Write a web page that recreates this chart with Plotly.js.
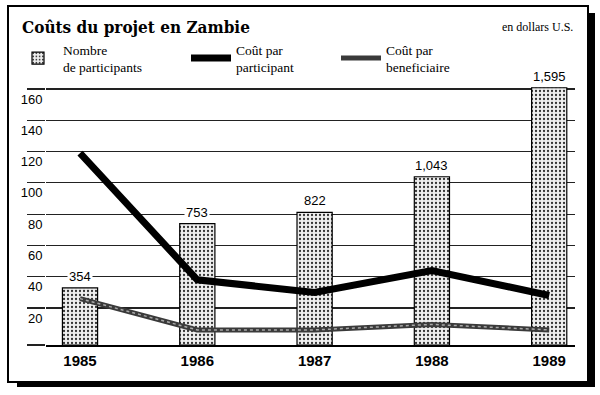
<!DOCTYPE html>
<html>
<head>
<meta charset="utf-8">
<script src="https://cdn.plot.ly/plotly-3.0.1.min.js"></script>
<style>
  html, body { margin:0; padding:0; background:#fff; width:600px; height:395px; overflow:hidden; }
  #frame { position:absolute; left:7px; top:5px; width:578px; height:374px; border:2px solid #000;
           background:#fff; box-shadow: 8px 6px 0 -2px #000; }
  #chart { position:absolute; left:0; top:0; width:600px; height:395px; }
</style>
</head>
<body>
<div id="frame"></div>
<div id="chart"></div>
<script>
const years = ['1985', '1986', '1987', '1988', '1989'];
const participants = [354, 753, 822, 1043, 1595];
const coutParParticipant = [119, 38, 30, 44, 28];
const coutParBeneficiaire = [26, 6, 6, 9.5, 6];
const costTicks = [20, 40, 60, 80, 100, 120, 140, 160];

const costMin = -3.65, costMax = 162.56;
const tickVals = [costMin + 0.01].concat(costTicks);
const tickText = [''].concat(costTicks.map(String));

const traces = [
  {
    type: 'bar', x: years, y: participants, yaxis: 'y', xaxis: 'x',
    name: 'Nombre<br>de participants', width: 0.3,
    marker: { color: '#d0d0d0', line: { color: '#000', width: 1.2 },
              pattern: { shape: '.', fgcolor: '#333', bgcolor: '#efefef', size: 4, solidity: 0.25 } },
    legend: 'legend', hoverinfo: 'skip'
  },
  {
    type: 'scatter', mode: 'lines', x: years, y: coutParParticipant, yaxis: 'y2',
    name: 'Coût par<br>participant', line: { color: '#000', width: 7 },
    legend: 'legend2', hoverinfo: 'skip'
  },
  {
    type: 'scatter', mode: 'lines', x: years, y: coutParBeneficiaire, yaxis: 'y2',
    name: 'Coût par<br>beneficiaire', line: { color: '#3a3a3a', width: 5 },
    legend: 'legend3', hoverinfo: 'skip'
  },
  {
    type: 'scatter', mode: 'lines', x: years, y: coutParBeneficiaire, yaxis: 'y2',
    showlegend: false, line: { color: '#a8a8a8', width: 1.5, dash: 'dot' }, hoverinfo: 'skip'
  }
];

const labelFont = { family: 'Liberation Sans, Arial, sans-serif', size: 13, color: '#000' };
const annotations = years.map((yr, i) => ({
  x: i, y: participants[i], xref: 'x', yref: 'y',
  text: participants[i].toLocaleString('en-US'),
  showarrow: false, yanchor: 'bottom', yshift: 2,
  bgcolor: '#fff', borderpad: 1, font: labelFont
}));
annotations.push({
  text: 'en dollars U.S.', xref: 'paper', yref: 'paper', x: 1, y: 1.224,
  xanchor: 'right', yanchor: 'middle', showarrow: false,
  font: { family: 'Liberation Serif, Times New Roman, serif', size: 12, color: '#000' }
});

const legendFont = { family: 'Liberation Serif, Times New Roman, serif', size: 13.5, color: '#000' };
function legendAt(px) {
  return { xref: 'container', yref: 'container', x: px / 600, y: 1 - 34 / 395,
           xanchor: 'left', yanchor: 'top', orientation: 'h', bgcolor: 'rgba(0,0,0,0)',
           font: legendFont, itemwidth: 40, borderwidth: 0 };
}

const layout = {
  width: 600, height: 395,
  margin: { l: 46, r: 25, t: 85, b: 50, pad: 0 },
  paper_bgcolor: 'rgba(0,0,0,0)', plot_bgcolor: 'rgba(0,0,0,0)',
  title: {
    text: '<b>Coûts du projet en Zambie</b>', xref: 'container', yref: 'container',
    x: 22 / 600, xanchor: 'left', y: 1 - 27 / 395, yanchor: 'middle',
    font: { family: 'DejaVu Serif Condensed, DejaVu Serif, serif', size: 17, color: '#000' }
  },
  showlegend: true,
  legend: legendAt(13),
  legend2: legendAt(186),
  legend3: legendAt(336),
  xaxis: {
    type: 'category', range: [-0.29, 4.22], showgrid: false, zeroline: false,
    showline: true, linecolor: '#000', linewidth: 1.5, ticks: '',
    tickfont: { family: 'Liberation Sans, Arial, sans-serif', size: 15, color: '#000', weight: 'bold' },
    ticklabelstandoff: 1, fixedrange: true
  },
  yaxis: {
    range: [0, 1612], showgrid: false, zeroline: false, showticklabels: false,
    ticks: '', showline: false, fixedrange: true
  },
  yaxis2: {
    overlaying: 'y', side: 'left', anchor: 'x', range: [costMin, costMax],
    tickmode: 'array', tickvals: tickVals, ticktext: tickText,
    showgrid: true, gridcolor: '#222', gridwidth: 1.2, zeroline: false,
    ticks: 'outside', ticklen: 18, tickwidth: 1.2, tickcolor: '#222',
    ticklabelstandoff: -18, ticklabelshift: 10,
    tickfont: { family: 'Liberation Sans, Arial, sans-serif', size: 13, color: '#000' },
    showline: false, fixedrange: true
  },
  annotations: annotations
};

Plotly.newPlot('chart', traces, layout, { displayModeBar: false, staticPlot: true });
</script>
</body>
</html>
